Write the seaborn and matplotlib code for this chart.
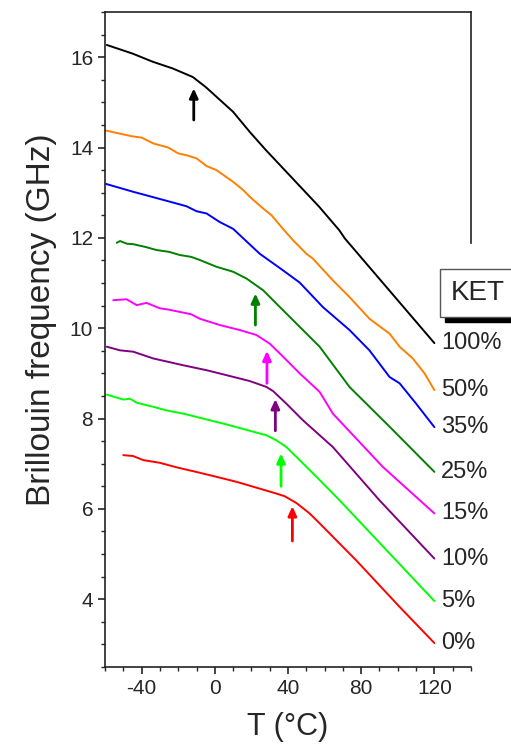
import pandas as pd
import numpy as np
import matplotlib.pyplot as plt
import seaborn as sns
from matplotlib.patches import Rectangle

# KET content series: temperature (deg C) and Brillouin frequency (GHz)
ket_labels = ['100%', '50%', '35%', '25%', '15%', '10%', '5%', '0%']
colors = ['black', '#ff8000', 'blue', 'green', 'magenta', 'purple', 'lime', 'red']

t_100 = [-59, -45, -34, -23, -12, -5, 10, 19, 28, 57, 68, 71, 120]
f_100 = [16.27, 16.08, 15.90, 15.75, 15.56, 15.34, 14.79, 14.35, 13.94, 12.69, 12.17, 11.99, 9.67]

t_50 = [-60, -45.5, -40, -33.6, -25.5, -20, -15.5, -10, -4.5, 0.9, 10, 15.5, 19.1, 26.4, 31, 36.4,
        42.7, 50, 53.6, 64.5, 73.6, 84.5, 91.8, 95.5, 101, 108.2, 114.6, 120]
f_50 = [14.38, 14.25, 14.22, 14.09, 14.0, 13.87, 13.83, 13.76, 13.59, 13.50, 13.24, 13.06, 12.91, 12.65, 12.50, 12.24,
        11.95, 11.65, 11.54, 11.06, 10.69, 10.21, 9.99, 9.88, 9.59, 9.33, 9.0, 8.63]

t_35 = [-60, -44.6, -24.5, -15.5, -10, -4.5, 2.7, 10, 24.5, 37.3, 46.4, 59, 73.6, 84.5, 95.5, 101, 110, 120]
f_35 = [13.2, 13.02, 12.80, 12.70, 12.59, 12.54, 12.35, 12.20, 11.65, 11.28, 11.01, 10.47, 9.96, 9.51, 8.92, 8.78, 8.33, 7.81]

t_25 = [-53.6, -51.8, -48, -44.6, -38, -31.8, -25, -19.1, -13, -8.2, 0.9, 10, 17.3, 26.4, 35.5, 46.4, 57.3, 73.6, 95.5, 120]
f_25 = [11.89, 11.93, 11.87, 11.86, 11.80, 11.73, 11.69, 11.62, 11.58, 11.51, 11.36, 11.25, 11.1, 10.84, 10.47, 10.03, 9.59, 8.70, 7.82, 6.82]

t_15 = [-55.5, -48.2, -42.7, -37.3, -30, -25, -19.1, -13, -8.2, 2.7, 13.6, 22.7, 30, 37.3, 46.4, 57.3, 64.5, 91.8, 120]
f_15 = [10.62, 10.64, 10.51, 10.56, 10.44, 10.41, 10.36, 10.31, 10.21, 10.07, 9.96, 9.85, 9.66, 9.37, 9.0, 8.59, 8.11, 6.93, 5.90]

t_10 = [-59, -51.8, -44.6, -33.6, -17.3, -4.5, 6.4, 19.1, 28.2, 31.8, 39.1, 48.2, 64.5, 90, 120]
f_10 = [9.59, 9.51, 9.48, 9.33, 9.18, 9.07, 8.96, 8.83, 8.70, 8.61, 8.33, 7.96, 7.37, 6.19, 4.90]

t_5 = [-59, -50, -46.4, -42.7, -33.6, -26.4, -17.3, -4.5, 6.4, 19.1, 28.2, 33.6, 39.1, 46.4, 57.3, 68.2, 120]
f_5 = [8.53, 8.42, 8.44, 8.35, 8.26, 8.18, 8.11, 7.98, 7.87, 7.73, 7.63, 7.52, 7.37, 7.08, 6.64, 6.19, 3.96]

t_0 = [-50, -44.6, -39.1, -30, -20.9, -8.2, 0.9, 11.8, 22.7, 33.6, 38.2, 44.6, 51.8, 57.3, 77.3, 101, 120]
f_0 = [7.19, 7.17, 7.08, 7.02, 6.92, 6.80, 6.71, 6.60, 6.47, 6.34, 6.28, 6.13, 5.90, 5.68, 4.86, 3.83, 3.03]

all_t = [t_100, t_50, t_35, t_25, t_15, t_10, t_5, t_0]
all_f = [f_100, f_50, f_35, f_25, f_15, f_10, f_5, f_0]

# transition arrows: x, tail y, tip y
arrow_x = [-11.5, 22.2, 28.5, 33.1, 36.2, 42.4]
arrow_tail = [14.61, 10.07, 8.78, 7.73, 6.50, 5.29]
arrow_tip = [15.31, 10.77, 9.50, 8.43, 7.23, 6.06]
arrow_colors = ['black', 'green', 'magenta', 'purple', 'lime', 'red']

df = pd.concat([pd.DataFrame({'T': t, 'f': f, 'KET': k})
                for t, f, k in zip(all_t, all_f, ket_labels)], ignore_index=True)

sns.set_style('ticks')
plt.rcParams['font.family'] = ['Liberation Sans', 'DejaVu Sans']
plt.rcParams['axes.unicode_minus'] = False

fig = plt.figure(figsize=(5.11, 7.45), dpi=100)
ax = fig.add_axes([0.2055, 0.1047, 0.7162, 0.8792])

sns.lineplot(data=df, x='T', y='f', hue='KET', palette=dict(zip(ket_labels, colors)),
             estimator=None, sort=False, lw=1.4, legend=False, ax=ax)

for x, y0, y1, c in zip(arrow_x, arrow_tail, arrow_tip, arrow_colors):
    ax.annotate('', xy=(x, y1), xytext=(x, y0),
                arrowprops=dict(arrowstyle='-|>,head_length=0.55,head_width=0.25',
                                color=c, lw=2, shrinkA=0, shrinkB=0))

for f, k in zip(all_f, ket_labels):
    ax.text(123.5, f[-1], k, fontsize=17, va='center', ha='left', clip_on=False)

ax.set_xlim(-60, 140)
ax.set_ylim(2.5, 17)
ax.set_xticks([-40, 0, 40, 80, 120])
ax.set_xticks(np.arange(-60, 141, 10), minor=True)
ax.set_yticks([4, 6, 8, 10, 12, 14, 16])
ax.set_yticks(np.arange(2.5, 17.01, 0.5), minor=True)
ax.tick_params(axis='both', which='major', length=5, width=1.2, labelsize=15, direction='out')
ax.tick_params(axis='both', which='minor', length=3, width=1, direction='out')
ax.tick_params(top=False, right=False)

for s in ax.spines.values():
    s.set_linewidth(1.2)
    s.set_color('#222222')
ax.spines['right'].set_bounds(11.88, 17)

ax.set_xlabel('T (°C)', fontsize=22, labelpad=10)
ax.set_ylabel('Brillouin frequency (GHz)', fontsize=24)
ax.yaxis.set_label_coords(-0.13, 0.53)

# KET legend title box with shadow
fig.patches.append(Rectangle((445 / 511, (745 - 322) / 745), 0.2, 7 / 745,
                             transform=fig.transFigure, color='black', zorder=3))
fig.text(451 / 511, (745 - 293) / 745, 'KET', fontsize=20, va='center', ha='left',
         bbox=dict(boxstyle='square,pad=0.4', fc='white', ec='#555555', lw=1), zorder=4)

fig.savefig('out.png', dpi=100)
